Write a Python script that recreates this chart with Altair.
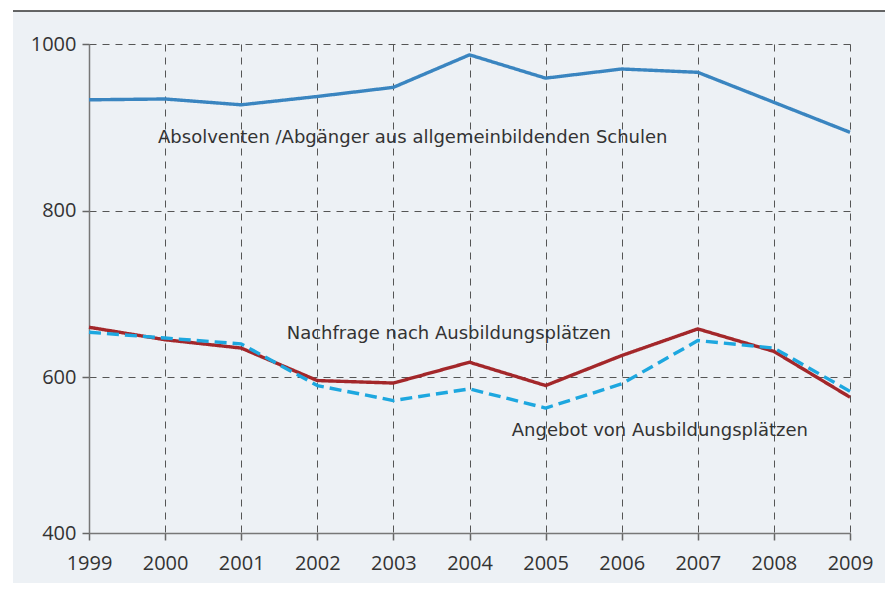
import altair as alt
import pandas as pd

# ---- data ----
years = [1999, 2000, 2001, 2002, 2003, 2004, 2005, 2006, 2007, 2008, 2009]
absolventen = [933, 934, 927, 937, 948, 987, 959, 970, 966, 930, 894]
nachfrage = [660, 645, 635, 596, 593, 618, 590, 626, 658, 631, 576]
angebot = [654, 647, 640, 590, 572, 586, 563, 592, 644, 635, 583]

series_names = ["Absolventen", "Nachfrage", "Angebot"]
label_texts = [
    "Absolventen /Abgänger aus allgemeinbildenden Schulen",
    "Nachfrage nach Ausbildungsplätzen",
    "Angebot von Ausbildungsplätzen",
]
y_tick_values = [413, 600, 800, 1000]
y_tick_labels = ["400", "600", "800", "1000"]

# ---- styling ----
FONT = "Open Sans"
ANN_FONT = "DejaVu Sans"
BG = "#edf1f5"
colors = ["#3a85c0", "#a3272a", "#1da7df"]
dashes = [[1, 0], [1, 0], [12, 6]]

W, H = 761, 489
PAD = {"left": 81, "top": 36, "right": 35, "bottom": 50}

rows = []
for name, vals in zip(series_names, [absolventen, nachfrage, angebot]):
    for yr, v in zip(years, vals):
        rows.append({"year": yr, "value": v, "series": name})
df = pd.DataFrame(rows)

x_scale = alt.Scale(domain=[1999, 2009], nice=False, zero=False)
y_scale = alt.Scale(domain=[413, 1000], nice=False, zero=False)

label_expr = " : ".join(
    [f"datum.value == {v} ? '{t}'" for v, t in zip(y_tick_values, y_tick_labels)]
) + " : datum.label"

lines = alt.Chart(df).mark_line(strokeWidth=3.4, strokeJoin="round", strokeCap="butt").encode(
    x=alt.X("year:Q", scale=x_scale,
            axis=alt.Axis(values=years, format="d", title=None, labelPadding=13,
                          labelFlush=False, labelOverlap=False, gridDash=[7, 6])),
    y=alt.Y("value:Q", scale=y_scale,
            axis=alt.Axis(values=y_tick_values, labelExpr=label_expr, title=None,
                          labelPadding=6, labelFlush=False, gridDash=[7, 6])),
    color=alt.Color("series:N", scale=alt.Scale(domain=series_names, range=colors), legend=None),
    strokeDash=alt.StrokeDash("series:N", scale=alt.Scale(domain=series_names, range=dashes), legend=None),
    order=alt.Order("year:Q"),
)

ann = pd.DataFrame({
    "x": [1999.907, 2001.598, 2004.555],
    "y": [881.2, 645.6, 530.0],
    "t": label_texts,
})
texts = alt.Chart(ann).mark_text(
    align="left", baseline="alphabetic", font=ANN_FONT, fontSize=18, color="#333333"
).encode(
    x=alt.X("x:Q", scale=x_scale),
    y=alt.Y("y:Q", scale=y_scale),
    text="t:N",
)

one = pd.DataFrame({"a": [0]})
white_top = alt.Chart(one).mark_rect(color="white").encode(
    x=alt.value(-PAD["left"]), x2=alt.value(W + PAD["right"]),
    y=alt.value(-PAD["top"]), y2=alt.value(-PAD["top"] + 3),
)
white_left = alt.Chart(one).mark_rect(color="white").encode(
    x=alt.value(-PAD["left"]), x2=alt.value(-PAD["left"] + 5),
    y=alt.value(-PAD["top"]), y2=alt.value(H + PAD["bottom"]),
)
top_rule = alt.Chart(one).mark_rule(color="#333333", strokeWidth=1.5).encode(
    x=alt.value(-PAD["left"] + 5), x2=alt.value(W + PAD["right"]),
    y=alt.value(-PAD["top"] + 3),
)

chart = alt.layer(white_top, white_left, top_rule, lines, texts).properties(
    width=W, height=H,
    autosize=alt.AutoSizeParams(type="none"),
    padding=PAD,
    background=BG,
).configure_view(strokeWidth=0).configure_axis(
    labelFont=FONT, labelFontSize=20, labelColor="#333333",
    domainColor="#777777", domainWidth=1.5,
    tickColor="#666666", tickSize=7, tickWidth=1.5,
    gridColor="#555555", gridWidth=1, gridOpacity=1,
)

chart.save("out.html", embed_options={"renderer": "svg", "actions": False})
